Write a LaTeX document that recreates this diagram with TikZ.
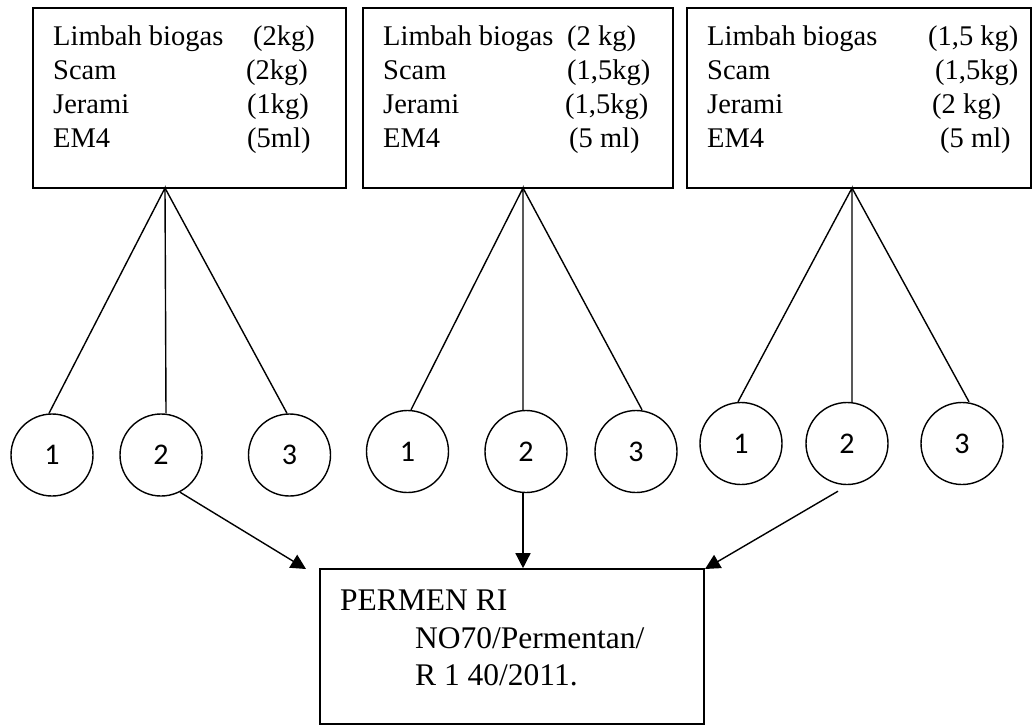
\documentclass[tikz,border=0pt]{standalone}
\usepackage{fontspec}
\setmainfont{Liberation Serif}
\newfontfamily\numfont{Carlito}
\usetikzlibrary{arrows.meta}
\begin{document}
\begin{tikzpicture}[x=1pt,y=-1pt,
  frame/.style={draw,line width=1.6pt,rectangle,inner sep=0pt},
  txt/.style={anchor=base west,inner sep=0pt,font=\fontsize{28.5}{34}\selectfont},
  btxt/.style={anchor=base west,inner sep=0pt,font=\fontsize{31.5}{37}\selectfont},
  num/.style={draw,circle,line width=1.4pt,minimum size=82pt,inner sep=0pt,font=\numfont\fontsize{30}{34}\selectfont},
  link/.style={line width=1.4pt},
  arr/.style={line width=1.4pt,-{Triangle[length=15pt,width=15pt]}}]
\useasboundingbox (0,0) rectangle (1033,726);
% boxes
\node[frame,minimum width=313pt,minimum height=180pt] (b1) at (189.5,98) {};
\node[frame,minimum width=310pt,minimum height=180pt] (b2) at (518,98) {};
\node[frame,minimum width=344pt,minimum height=180pt] (b3) at (859,98) {};
\node[frame,minimum width=384pt,minimum height=155pt] (pm) at (512,646.5) {};
% box 1 text
\node[txt] (l11) at (53,45) {Limbah biogas};
\node[txt] (r11) at (253,45) {(2kg)};
\node[txt] (l12) at (53,79) {Scam};
\node[txt] (r12) at (246,79) {(2kg)};
\node[txt] (l13) at (53,113) {Jerami};
\node[txt] (r13) at (247,113) {(1kg)};
\node[txt] (l14) at (53,147) {EM4};
\node[txt] (r14) at (247,147) {(5ml)};
% box 2 text
\node[txt] (l21) at (383,45) {Limbah biogas};
\node[txt] (r21) at (567,45) {(2 kg)};
\node[txt] (l22) at (383,79) {Scam};
\node[txt] (r22) at (567,79) {(1,5kg)};
\node[txt] (l23) at (383,113) {Jerami};
\node[txt] (r23) at (565,113) {(1,5kg)};
\node[txt] (l24) at (383,147) {EM4};
\node[txt] (r24) at (569,147) {(5 ml)};
% box 3 text
\node[txt] (l31) at (707,45) {Limbah biogas};
\node[txt] (r31) at (928,45) {(1,5 kg)};
\node[txt] (l32) at (707,79) {Scam};
\node[txt] (r32) at (935,79) {(1,5kg)};
\node[txt] (l33) at (707,113) {Jerami};
\node[txt] (r33) at (932,113) {(2 kg)};
\node[txt] (l34) at (707,147) {EM4};
\node[txt] (r34) at (940,147) {(5 ml)};
% bottom text
\node[btxt] (p1) at (340,610) {PERMEN RI};
\node[btxt] (p2) at (415,648) {NO70/Permentan/};
\node[btxt] (p3) at (415,685) {R 1 40/2011.};
% circles
\node[num] (c11) at (52,455) {1};
\node[num] (c12) at (161,455) {2};
\node[num] (c13) at (289.5,455) {3};
\node[num] (c21) at (407.5,451.5) {1};
\node[num] (c22) at (526,451.5) {2};
\node[num] (c23) at (636,451.5) {3};
\node[num] (c31) at (741,443.5) {1};
\node[num] (c32) at (847,443.5) {2};
\node[num] (c33) at (962,443.5) {3};
% apex points
\coordinate (t1) at (165,188);
\coordinate (t2) at (523,188);
\coordinate (t3) at (852,188);
% fan lines
\draw[link] ([xshift=-3pt]c11.north) -- (t1) -- ([xshift=5pt]c12.north);
\draw[link] (t1) -- ([xshift=-2.5pt]c13.north);
\draw[link] ([xshift=3.5pt]c21.north) -- (t2) -- ([xshift=-3pt]c22.north);
\draw[link] (t2) -- ([xshift=6pt]c23.north);
\draw[link] ([xshift=-3pt]c31.north) -- (t3) -- ([xshift=5pt]c32.north);
\draw[link] (t3) -- ([xshift=7pt]c33.north);
% arrows
\coordinate (e1) at (306,569);
\coordinate (e3) at (705,569);
\draw[arr] (c12.-63) -- (e1);
\draw[arr] ([xshift=-3pt]c22.south) -- ([xshift=-3pt]c22.south |- pm.north);
\draw[arr] ([xshift=-9pt,yshift=-6pt]c32.south) -- (e3);
\end{tikzpicture}
\end{document}
